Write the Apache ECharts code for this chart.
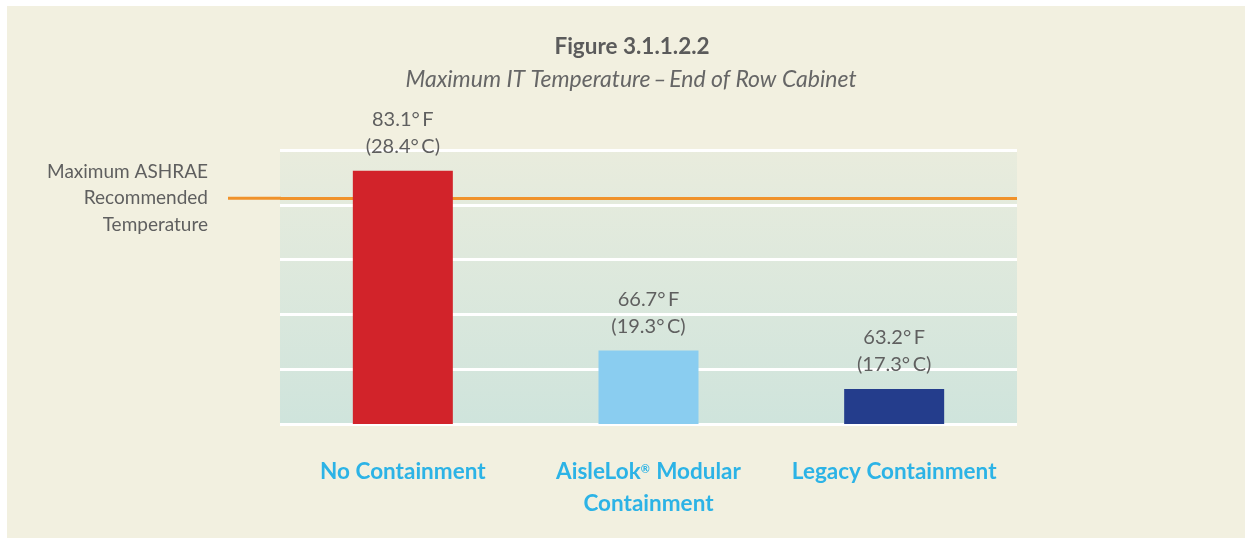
<!DOCTYPE html>
<html>
<head>
<meta charset="utf-8">
<script src="https://cdn.jsdelivr.net/npm/echarts@6/dist/echarts.min.js"></script>
<style>
html,body{margin:0;padding:0;background:#ffffff;}
#main{width:1252px;height:542px;}
</style>
</head>
<body>
<div id="main"></div>
<script>
var categories = ['No Containment', 'AisleLok® Modular\nContainment', 'Legacy Containment'];
var tempF = [83.1, 66.7, 63.2];
var tempC = [28.4, 19.3, 17.3];
var barColors = ['#d2232a', '#8acdf0', '#243d8c'];
var ashraeMaxF = 80.6;
var ashraeLabel = 'Maximum ASHRAE\nRecommended\nTemperature';
var yMin = 60, yMax = 85, yStep = 5;
var titleText = 'Figure 3.1.1.2.2';
var subtitleText = 'Maximum IT Temperature\u2009\u2013\u2009End of Row Cabinet';

var chart = echarts.init(document.getElementById('main'));
var FONT = 'Lato, "Open Sans", sans-serif';

function catFormatter(v) {
  return v.split('\n').map(function (line) {
    return line.split('®').map(function (s) { return s ? '{b|' + s + '}' : ''; }).join('{sup|®}');
  }).join('\n');
}

var panelRect = {
  type: 'rect', z: -10, silent: true,
  shape: {x: 7, y: 6, width: 1238, height: 532},
  style: {fill: '#f2f0e0'}
};
var titleGraphic = {
  type: 'text', silent: true, x: 632, y: 47,
  style: {text: titleText, align: 'center', verticalAlign: 'middle',
          font: 'bold 22.5px ' + FONT, fill: '#5b5b5b'}
};
var subtitleGraphic = {
  type: 'text', silent: true, x: 631, y: 80,
  style: {text: subtitleText, align: 'center', verticalAlign: 'middle',
          font: 'italic 23px ' + FONT, fill: '#666666'}
};

var option = {
  backgroundColor: '#ffffff',
  animation: false,
  graphic: [panelRect, titleGraphic, subtitleGraphic],
  grid: {
    left: 280, right: 235, top: 150, bottom: 118,
    show: true, borderWidth: 0,
    backgroundColor: new echarts.graphic.LinearGradient(0, 0, 0, 1, [
      {offset: 0, color: '#e9ecdd'},
      {offset: 1, color: '#cfe4dc'}
    ])
  },
  xAxis: {
    type: 'category', data: categories,
    axisLine: {show: false}, axisTick: {show: false},
    axisLabel: {
      margin: 32, interval: 0, lineHeight: 32,
      formatter: catFormatter,
      rich: {
        b: {fontFamily: FONT, fontSize: 22.5, fontWeight: 'bold', color: '#2cb3e6', lineHeight: 32},
        sup: {fontFamily: FONT, fontSize: 11, fontWeight: 'bold', color: '#2cb3e6',
              verticalAlign: 'top', lineHeight: 14, padding: [8, 1, 0, 0]}
      }
    }
  },
  yAxis: {
    type: 'value', min: yMin, max: yMax, interval: yStep,
    axisLine: {show: false}, axisTick: {show: false}, axisLabel: {show: false},
    splitLine: {lineStyle: {color: '#ffffff', width: 3}}
  },
  series: [{
    type: 'bar',
    barWidth: 100,
    data: tempF.map(function (v, i) {
      return {value: v, itemStyle: {color: barColors[i]}};
    }),
    label: {
      show: true, position: 'top', distance: 11,
      fontFamily: FONT, fontSize: 20, color: '#5f5f5f', lineHeight: 27,
      formatter: function (p) {
        return p.value.toFixed(1) + '\u00b0\u2009F\n(' + tempC[p.dataIndex].toFixed(1) + '\u00b0\u2009C)';
      }
    },
    markLine: {
      silent: true, symbol: 'none', z: 1,
      lineStyle: {color: '#f0922b', width: 3, type: 'solid'},
      label: {
        show: true, position: 'start', distance: 72,
        formatter: ashraeLabel, align: 'right', padding: [0, 0, 4, 0],
        fontFamily: FONT, fontSize: 19, color: '#5f5f5f', lineHeight: 26.5
      },
      data: [{yAxis: ashraeMaxF}]
    }
  }]
};
chart.setOption(option);

// extend the ASHRAE line left of the plot area
var yPix = chart.convertToPixel({yAxisIndex: 0}, ashraeMaxF);
chart.setOption({
  graphic: [panelRect, titleGraphic, subtitleGraphic, {
    type: 'line', silent: true, z: 5,
    shape: {x1: 228, y1: yPix, x2: 281, y2: yPix},
    style: {stroke: '#f0922b', lineWidth: 3}
  }]
});
</script>
</body>
</html>
